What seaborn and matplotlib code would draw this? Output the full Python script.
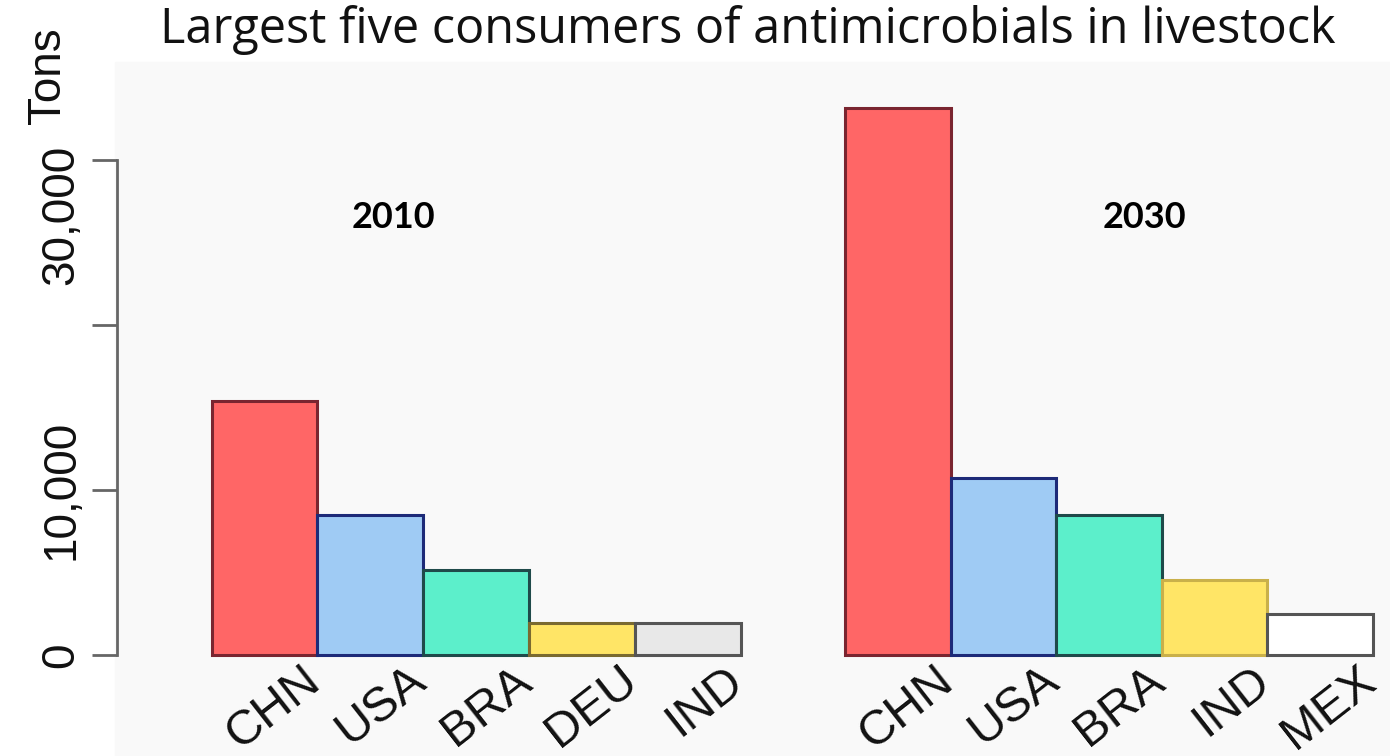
import matplotlib
matplotlib.use('Agg')
import matplotlib.pyplot as plt
import matplotlib.transforms as mtransforms
import seaborn as sns

# data (tons)
countries_2010 = ["CHN", "USA", "BRA", "DEU", "IND"]
tons_2010 = [15400, 8500, 5150, 1950, 1950]
countries_2030 = ["CHN", "USA", "BRA", "IND", "MEX"]
tons_2030 = [33150, 10750, 8500, 4550, 2500]

fills_2010 = ["#ff6666", "#9fcbf4", "#5cefcb", "#ffe566", "#e8e8e8"]
edges_2010 = ["#7a2530", "#1d2a78", "#1f4a4a", "#7a6a30", "#555555"]
fills_2030 = ["#ff6666", "#9fcbf4", "#5cefcb", "#ffe566", "#ffffff"]
edges_2030 = ["#7a2530", "#1d2a78", "#1f4a4a", "#c9b04a", "#555555"]

y_ticks = [0, 10000, 20000, 30000]
y_ticklabels = ["0", "10,000", "", "30,000"]

sns.set_theme(style="white")
plt.rcParams['font.family'] = ['Liberation Sans', 'DejaVu Sans']
plt.rcParams['text.color'] = '#111111'
plt.rcParams['xtick.labelcolor'] = '#111111'
plt.rcParams['ytick.labelcolor'] = '#111111'

W, H = 1390, 756
fig = plt.figure(figsize=(W / 100, H / 100), dpi=100, facecolor='white')

# faint grey panel behind the plots
fig.patches.append(plt.Rectangle((115 / W, 0), 1 - 115 / W, (H - 62) / H,
                                 transform=fig.transFigure, color='#f9f9f9', zorder=-5))

bottom = (H - 655) / H
height = 594 / H
ax1 = fig.add_axes([117 / W, bottom, (741 - 117) / W, height])
ax2 = fig.add_axes([845 / W, bottom, (1373 - 845) / W, height])

panels = [
    (ax1, countries_2010, tons_2010, fills_2010, edges_2010),
    (ax2, countries_2030, tons_2030, fills_2030, edges_2030),
]

for ax, cats, vals, fills, edges in panels:
    ax.set_facecolor('none')
    sns.barplot(x=cats, y=vals, hue=cats, palette=fills, width=1.0,
                legend=False, saturation=1, ax=ax)
    for patch, ec in zip(ax.patches, edges):
        patch.set_edgecolor(ec)
        patch.set_linewidth(2.2)
        patch.set_clip_on(False)
    ax.set_ylim(0, 36000)
    for s in ['top', 'right', 'bottom', 'left']:
        ax.spines[s].set_visible(False)
    ax.tick_params(axis='x', length=0, labelsize=35, pad=0, labelcolor='#111111')
    offset = mtransforms.ScaledTranslation(0.58, -0.30, fig.dpi_scale_trans)
    for lab in ax.get_xticklabels():
        lab.set_rotation(38)
        lab.set_ha('right')
        lab.set_va('baseline')
        lab.set_rotation_mode('anchor')
        lab.set_transform(lab.get_transform() + offset)

ax1.set_xlim(-0.5 - (211.5 - 117) / 105.8, 4.5)
ax2.set_xlim(-0.5, 4.5)

# R-style left axis covering 0..30,000 only
ax1.spines['left'].set_visible(True)
ax1.spines['left'].set_bounds(0, 30000)
ax1.spines['left'].set_color('#666666')
ax1.spines['left'].set_linewidth(2)
ax1.set_yticks(y_ticks)
ax1.set_yticklabels(y_ticklabels, rotation=90, va='center')
ax1.tick_params(axis='y', left=True, length=18, width=2, color='#666666',
                pad=6, labelsize=33, labelcolor='#111111')
ax2.set_yticks([])
# the top label sits a little below its tick in the reference
down = mtransforms.ScaledTranslation(0, -0.55, fig.dpi_scale_trans)
top_lab = ax1.get_yticklabels()[-1]
top_lab.set_transform(top_lab.get_transform() + down)

fig.text(70 / W, 1 - 76 / H, "Tons", rotation=90, ha='right', va='center',
         fontsize=33, color='#111111')

fig.text(393 / W, 1 - 218 / H, "2010", ha='center', va='center', color='black',
         fontsize=26, fontweight='bold', family=['Lato', 'DejaVu Sans'])
fig.text(1144 / W, 1 - 218 / H, "2030", ha='center', va='center', color='black',
         fontsize=26, fontweight='bold', family=['Lato', 'DejaVu Sans'])

fig.text(160 / W, 1 - 43 / H, "Largest five consumers of antimicrobials in livestock",
         ha='left', va='baseline', fontsize=35, color='#111111',
         family=['Open Sans', 'DejaVu Sans'])

fig.savefig("out.png", dpi=100, facecolor='white')
